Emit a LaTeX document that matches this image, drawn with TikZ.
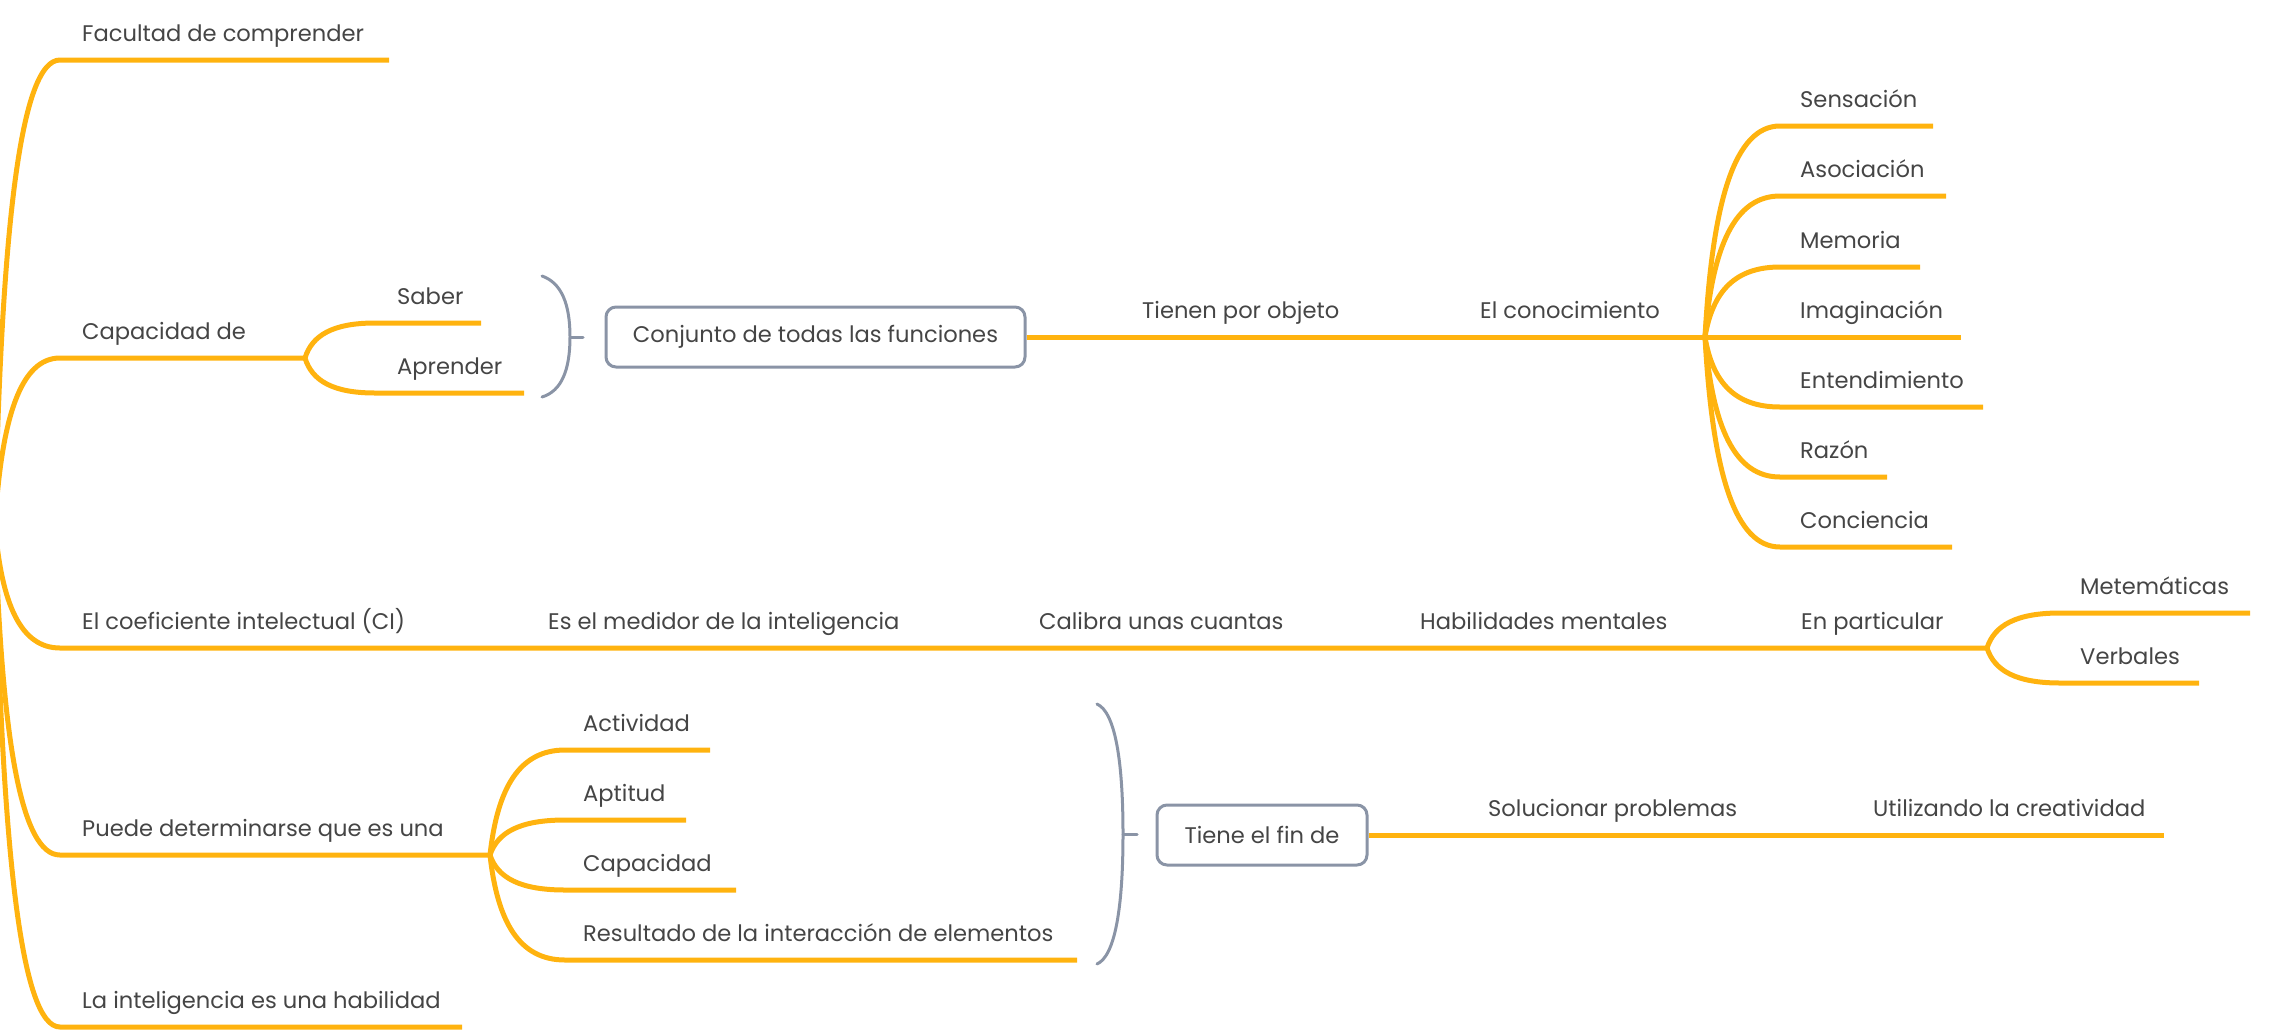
\documentclass[tikz,border=0pt]{standalone}
\usepackage{fontspec}
\setmainfont{Poppins}
\usetikzlibrary{calc}
\definecolor{org}{HTML}{FFB30F}
\definecolor{gry}{HTML}{8A94A6}
\definecolor{txt}{HTML}{454545}
\newcommand\forkto[3]{%
  \draw[br] let \p1=(#1), \p2=(#2) in (#1) .. controls ({\x1+0.1*\x2-0.1*\x1}, {\y1+0.65*\y2-0.65*\y1}) and ({\x1+0.4*\x2-0.4*\x1}, \y2) .. (#2) -- (#3);}
\begin{document}
\begin{tikzpicture}[x=1pt,y=-1pt,
  br/.style={draw=org, line width=5pt},
  lbl/.style={anchor=base west, inner sep=0pt, yshift=1.5pt, text=txt, font=\fontsize{22.6}{27}\selectfont},
  boxnode/.style={draw=gry, line width=3pt, rounded corners=10pt, text=txt, font=\fontsize{22.6}{27}\selectfont, minimum height=60pt, inner sep=0pt, align=center},
  brk/.style={draw=gry, line width=3pt, line cap=round}
]
\useasboundingbox (0,0) rectangle (2272,1034);
\clip (0,0) rectangle (2272,1034);
\coordinate (R) at (-5,525);

% Facultad
\coordinate (c1) at (60,60); \coordinate (e1) at (389,60);
\forkto{R}{c1}{e1}
\node[lbl] (t1) at (82,43) {Facultad de comprender};

% Capacidad de
\coordinate (c2) at (60,358); \coordinate (f2) at (305,358);
\forkto{R}{c2}{f2}
\node[lbl] (t2) at (82,341) {Capacidad de};
\coordinate (saC) at (375,323); \coordinate (saE) at (481,323);
\coordinate (apC) at (375,393); \coordinate (apE) at (524,393);
\forkto{f2}{saC}{saE}
\forkto{f2}{apC}{apE}
\node[lbl] (tsa) at (397,306) {Saber};
\node[lbl] (tap) at (397,376) {Aprender};
\coordinate (b1t) at (542,276); \coordinate (b1m) at (570,337);
\coordinate (b1b) at (542,397); \coordinate (b1k) at (583,337);
\draw[brk] (b1t) .. controls (562,283) and (570,305) .. (b1m) .. controls (570,369) and (562,391) .. (b1b);
\draw[brk] (b1m) -- (b1k);
\node[boxnode, minimum width=419pt] (conj) at (815.5,337) {Conjunto de todas las funciones};
\coordinate (kf) at (1705,337);
\draw[br] (conj.east) -- (kf);
\node[lbl] (tpo) at (1142,320) {Tienen por objeto};
\node[lbl] (tec) at (1480,320) {El conocimiento};
\coordinate (k1C) at (1780,126); \coordinate (k1E) at (1933,126);
\coordinate (k2C) at (1780,196); \coordinate (k2E) at (1946,196);
\coordinate (k3C) at (1780,267); \coordinate (k3E) at (1920,267);
\coordinate (k4C) at (1780,337); \coordinate (k4E) at (1961,337);
\coordinate (k5C) at (1780,407); \coordinate (k5E) at (1983,407);
\coordinate (k6C) at (1780,477); \coordinate (k6E) at (1887,477);
\coordinate (k7C) at (1780,547); \coordinate (k7E) at (1952,547);
\foreach \i in {1,...,7} {\forkto{kf}{k\i C}{k\i E}}
\node[lbl] (k1) at (1800,109) {Sensación};
\node[lbl] (k2) at (1800,179) {Asociación};
\node[lbl] (k3) at (1800,250) {Memoria};
\node[lbl] (k4) at (1800,320) {Imaginación};
\node[lbl] (k5) at (1800,390) {Entendimiento};
\node[lbl] (k6) at (1800,460) {Razón};
\node[lbl] (k7) at (1800,530) {Conciencia};

% El coeficiente
\coordinate (c3) at (60,648); \coordinate (f3) at (1987,648);
\forkto{R}{c3}{f3}
\node[lbl] (t3) at (82,631) {El coeficiente intelectual (CI)};
\node[lbl] (t3a) at (548,631) {Es el medidor de la inteligencia};
\node[lbl] (t3b) at (1039,631) {Calibra unas cuantas};
\node[lbl] (t3c) at (1420,631) {Habilidades mentales};
\node[lbl] (t3d) at (1801,631) {En particular};
\coordinate (meC) at (2060,613); \coordinate (meE) at (2250,613);
\coordinate (veC) at (2060,683); \coordinate (veE) at (2199,683);
\forkto{f3}{meC}{meE}
\forkto{f3}{veC}{veE}
\node[lbl] (tme) at (2080,596) {Metemáticas};
\node[lbl] (tve) at (2080,666) {Verbales};

% Puede determinarse
\coordinate (c4) at (60,855); \coordinate (f4) at (490,855);
\forkto{R}{c4}{f4}
\node[lbl] (t4) at (82,838) {Puede determinarse que es una};
\coordinate (p1C) at (565,750); \coordinate (p1E) at (710,750);
\coordinate (p2C) at (565,820); \coordinate (p2E) at (686,820);
\coordinate (p3C) at (565,890); \coordinate (p3E) at (736,890);
\coordinate (p4C) at (565,960); \coordinate (p4E) at (1077,960);
\foreach \i in {1,...,4} {\forkto{f4}{p\i C}{p\i E}}
\node[lbl] (p1) at (583,733) {Actividad};
\node[lbl] (p2) at (583,803) {Aptitud};
\node[lbl] (p3) at (583,873) {Capacidad};
\node[lbl] (p4) at (583,943) {Resultado de la interacción de elementos};
\coordinate (b2t) at (1097,704); \coordinate (b2m) at (1123,834);
\coordinate (b2b) at (1097,964); \coordinate (b2k) at (1137,834);
\draw[brk] (b2t) .. controls (1115,712) and (1123,760) .. (b2m) .. controls (1123,908) and (1115,956) .. (b2b);
\draw[brk] (b2m) -- (b2k);
\node[boxnode, minimum width=210pt] (tiene) at (1262,835) {Tiene el fin de};
\coordinate (tE) at (2164,835);
\draw[br] (tiene.east) -- (tE);
\node[lbl] (tso) at (1488,818) {Solucionar problemas};
\node[lbl] (tut) at (1873,818) {Utilizando la creatividad};

% La inteligencia
\coordinate (c5) at (60,1027); \coordinate (e5) at (462,1027);
\forkto{R}{c5}{e5}
\node[lbl] (t5) at (82,1010) {La inteligencia es una habilidad};
\end{tikzpicture}
\end{document}
